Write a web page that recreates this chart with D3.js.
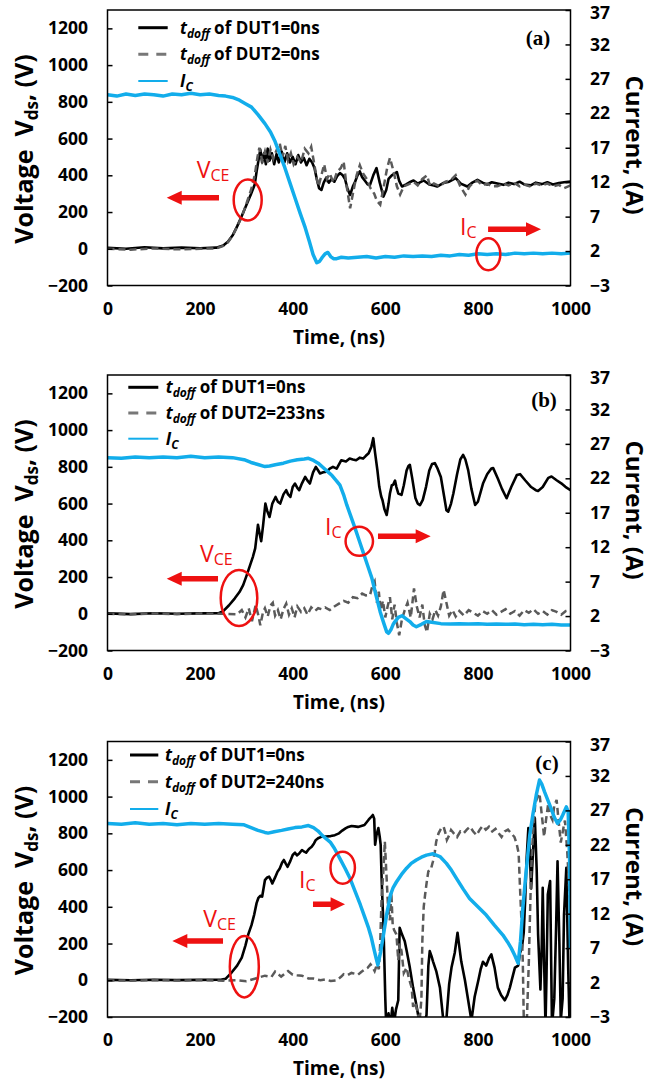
<!DOCTYPE html>
<html><head><meta charset="utf-8">
<script src="https://cdn.jsdelivr.net/npm/d3@7"></script>
<style>body{margin:0;background:#fff}svg{display:block}</style>
</head><body>
<svg id="c" width="663" height="1081" font-family="'Open Sans', Lato, sans-serif"></svg>
<script>
// ---------- data ----------
const timeTicks = [0,200,400,600,800,1000];
const voltTicks = [-200,0,200,400,600,800,1000,1200];
const currTicks = [-3,2,7,12,17,22,27,32,37];
const panelLabels = ["(a)","(b)","(c)"];
const dut1Delay = ["0ns","0ns","0ns"];
const dut2Delay = ["0ns","233ns","240ns"];

// Panel (a): [time ns, value]
const a_v1 = [[0,5],[40,0],[80,8],[120,2],[160,6],[200,3],[235,6],[250,18],[260,38],[270,72],[280,122],[290,178],[300,238],[310,298],[318,350],[322,420],[326,480],[330,540],[334,470],[338,520],[342,460],[346,545],[350,480],[355,520],[360,460],[365,515],[370,470],[376,530],[382,470],[388,520],[394,470],[400,500],[406,460],[412,510],[418,470],[424,495],[430,455],[436,490],[442,470],[447,440],[452,380],[457,330],[462,320],[467,360],[472,385],[478,360],[484,380],[490,365],[496,395],[502,412],[508,400],[513,380],[518,330],[524,293],[530,340],[535,366],[540,400],[545,421],[550,390],[556,370],[562,350],[567,348],[574,400],[581,439],[588,360],[596,284],[602,320],[607,380],[614,400],[620,410],[625,418],[630,370],[636,339],[645,350],[655,365],[661,372],[670,355],[683,372],[695,350],[705,345],[712,339],[725,358],[738,365],[752,385],[763,355],[777,339],[788,360],[799,375],[810,360],[820,350],[830,362],[842,355],[855,348],[866,360],[878,352],[890,365],[900,350],[914,345],[925,360],[938,352],[950,362],[962,350],[975,358],[986,362],[1000,366]];
const a_v2 = [[0,0],[50,-5],[100,2],[150,-3],[200,0],[235,2],[250,15],[260,35],[270,70],[280,120],[290,175],[300,245],[310,320],[318,400],[324,500],[328,550],[334,480],[340,530],[346,470],[352,540],[358,490],[364,530],[372,575],[378,500],[384,560],[390,480],[396,520],[402,460],[410,500],[418,470],[426,545],[434,520],[440,555],[446,470],[452,380],[456,340],[462,400],[468,460],[474,380],[480,410],[488,360],[496,420],[504,440],[510,475],[516,350],[524,220],[530,300],[538,400],[545,455],[552,410],[560,380],[568,330],[576,300],[582,260],[589,240],[596,330],[604,440],[610,495],[618,420],[625,340],[632,295],[640,340],[650,350],[661,365],[670,345],[680,380],[690,400],[697,340],[705,355],[718,340],[730,365],[742,375],[752,400],[762,340],[773,295],[782,340],[790,360],[799,370],[810,345],[820,355],[830,340],[842,340],[855,355],[866,345],[878,360],[890,340],[900,350],[914,338],[925,355],[938,345],[950,355],[962,340],[975,348],[986,330],[1000,345]];
const a_ic = [[0,24.7],[20,24.5],[40,24.8],[60,24.6],[80,24.8],[100,24.7],[120,24.5],[140,24.8],[160,24.7],[180,24.9],[200,24.7],[220,24.8],[240,24.6],[255,24.5],[270,24.3],[285,23.9],[298,23.4],[311,22.9],[325,21.8],[340,20.5],[352,19.3],[362,17.9],[372,16.1],[383,14.1],[394,11.9],[405,9.7],[416,7.5],[427,5.4],[436,3.4],[444,1.5],[452,0.3],[458,0.5],[464,1.1],[470,1.6],[476,1.8],[482,1.2],[488,0.9],[495,0.9],[505,1.1],[520,1.0],[540,1.1],[560,1.2],[580,1.0],[600,1.2],[620,1.1],[640,1.3],[660,1.2],[680,1.3],[700,1.2],[720,1.4],[740,1.3],[760,1.5],[780,1.4],[800,1.6],[820,1.5],[840,1.6],[860,1.5],[880,1.7],[900,1.6],[920,1.7],[940,1.6],[960,1.7],[980,1.6],[1000,1.7]];

// Panel (b)
const b_v1 = [[0,2],[50,-2],[100,3],[150,0],[200,2],[240,3],[250,14],[262,45],[275,84],[285,118],[293,156],[300,205],[308,265],[314,310],[319,356],[322,420],[325,485],[329,430],[332,395],[336,480],[341,600],[345,560],[350,527],[356,600],[363,636],[368,610],[373,600],[380,650],[386,673],[390,650],[395,636],[400,690],[405,709],[410,685],[414,673],[420,710],[427,745],[432,725],[437,709],[444,770],[450,800],[455,780],[459,764],[466,770],[473,773],[480,790],[487,800],[495,790],[505,836],[515,829],[523,845],[530,840],[537,836],[545,850],[552,845],[558,860],[564,874],[570,910],[574,956],[578,875],[583,780],[587,691],[591,640],[594,618],[598,570],[603,538],[607,600],[610,655],[614,700],[617,702],[621,725],[624,690],[628,655],[635,647],[640,700],[646,780],[650,805],[653,811],[658,740],[665,630],[670,600],[675,592],[681,620],[688,691],[695,780],[701,815],[707,820],[713,790],[720,745],[727,640],[732,564],[736,556],[742,600],[747,655],[755,760],[762,840],[768,865],[773,840],[779,782],[786,680],[794,592],[800,610],[811,709],[820,760],[829,791],[833,793],[843,736],[852,680],[862,629],[872,690],[884,755],[891,760],[902,727],[915,690],[925,673],[930,669],[940,690],[952,740],[959,747],[970,727],[980,710],[989,691],[1000,673]];
const b_v2 = [[0,0],[50,-3],[100,2],[150,-2],[200,1],[250,0],[280,-3],[290,20],[298,-20],[305,30],[312,-40],[320,47],[326,-10],[330,-62],[336,10],[340,30],[346,-15],[352,45],[357,60],[362,-10],[368,20],[374,-30],[380,25],[386,55],[392,-5],[398,30],[404,-20],[410,40],[418,10],[425,30],[432,-5],[440,35],[448,15],[455,30],[462,25],[470,35],[480,20],[490,40],[500,55],[510,70],[520,60],[530,90],[540,85],[550,110],[558,100],[567,102],[572,150],[577,175],[582,60],[586,120],[590,20],[595,70],[600,-20],[605,40],[610,90],[615,-30],[620,50],[625,-50],[630,-117],[636,-30],[642,20],[648,60],[655,-20],[662,138],[668,40],[674,-20],[680,50],[685,-60],[690,-100],[696,0],[702,-30],[708,20],[714,-10],[720,40],[726,130],[732,60],[738,-10],[745,20],[752,-15],[760,15],[770,-10],[780,20],[790,5],[800,-10],[810,15],[820,0],[830,20],[840,-5],[850,10],[860,25],[870,0],[880,15],[890,-10],[900,20],[910,5],[920,25],[930,0],[940,15],[950,-5],[960,20],[970,10],[980,-5],[990,15],[1000,20]];
const b_ic = [[0,25.0],[30,24.9],[60,25.1],[90,25.0],[120,25.1],[150,25.0],[180,25.2],[210,25.0],[240,25.1],[270,25.0],[295,24.7],[310,24.3],[325,24.0],[340,23.7],[350,23.8],[365,24.0],[380,24.2],[395,24.5],[410,24.7],[425,24.8],[434,24.9],[445,24.6],[455,24.2],[465,23.6],[475,23.0],[485,22.4],[495,21.6],[502,21.0],[510,19.6],[517,18.1],[526,16.4],[535,14.7],[544,12.9],[553,11.1],[562,9.3],[571,7.5],[580,5.0],[589,2.6],[597,0.9],[603,-0.3],[607,-0.5],[612,0.0],[617,0.8],[621,1.2],[628,1.8],[636,2.05],[645,1.6],[653,1.2],[660,0.7],[667,0.45],[678,0.8],[689,1.2],[700,1.1],[720,0.9],[740,0.85],[760,0.9],[780,0.85],[800,0.9],[820,0.8],[840,0.85],[860,0.8],[880,0.85],[900,0.75],[920,0.8],[940,0.75],[960,0.8],[980,0.7],[1000,0.7]];

// Panel (c)
const c_v1 = [[0,2],[50,0],[100,3],[150,1],[200,2],[245,3],[255,8],[268,42],[280,80],[290,123],[298,190],[304,250],[311,300],[317,359],[322,420],[326,449],[330,460],[334,455],[340,545],[345,560],[349,564],[353,545],[356,527],[362,560],[367,590],[372,609],[377,640],[381,655],[385,635],[389,618],[395,650],[400,682],[405,695],[409,680],[414,690],[420,709],[425,700],[429,695],[435,715],[441,727],[446,745],[450,764],[456,775],[463,782],[472,783],[482,785],[491,790],[500,800],[507,815],[514,827],[520,835],[527,840],[534,838],[541,835],[548,840],[555,845],[564,874],[568,885],[573,900],[576,880],[578,738],[581,790],[585,829],[588,780],[590,738],[592,560],[594,420],[596,300],[598,100],[600,-100],[602,-250],[607,-180],[611,-250],[615,-150],[619,-230],[623,-160],[628,-109],[631,286],[636,250],[642,213],[647,150],[653,69],[660,-40],[666,-120],[671,-190],[678,-260],[684,-230],[689,-190],[693,80],[696,159],[700,130],[703,103],[710,50],[718,-40],[725,-210],[732,-210],[738,-20],[743,69],[750,150],[756,259],[760,180],[764,103],[772,0],[779,-109],[786,-220],[793,-90],[801,0],[806,60],[811,101],[818,80],[824,120],[829,141],[836,69],[843,-40],[850,-80],[858,-109],[864,-80],[869,-40],[875,20],[880,69],[887,80],[891,150],[895,177],[899,260],[902,430],[905,650],[909,829],[912,700],[915,500],[919,700],[923,883],[927,600],[930,250],[935,-50],[938,200],[940,503],[943,100],[946,-250],[948,0],[951,467],[956,540],[960,-250],[965,-100],[969,300],[972,648],[976,200],[979,-220],[983,-100],[986,358],[991,612],[995,69],[998,-250],[1000,-250]];
const c_v2 = [[0,0],[50,-2],[100,1],[150,-1],[200,0],[250,-2],[280,0],[300,-5],[320,10],[340,25],[354,18],[362,47],[375,20],[390,50],[400,30],[409,27],[420,25],[434,10],[445,9],[460,0],[470,5],[482,-4],[495,0],[505,20],[510,33],[518,27],[527,40],[535,35],[541,30],[548,45],[555,58],[562,68],[568,87],[573,70],[577,50],[582,87],[586,60],[589,200],[592,450],[596,600],[599,756],[602,600],[606,395],[610,327],[613,480],[616,300],[619,273],[624,250],[628,109],[631,200],[635,159],[640,40],[646,69],[651,10],[657,-40],[660,-145],[664,-120],[669,-164],[674,-230],[678,-100],[680,213],[683,400],[686,467],[690,545],[693,593],[698,600],[703,648],[707,700],[710,756],[715,800],[721,829],[726,836],[730,800],[733,764],[738,790],[742,818],[748,800],[755,780],[762,810],[769,800],[776,820],[783,836],[790,810],[797,790],[804,820],[810,840],[817,820],[824,836],[831,810],[838,825],[845,800],[851,780],[858,810],[865,820],[872,800],[879,780],[884,740],[888,691],[891,500],[894,327],[897,100],[899,-200],[903,-250],[906,-200],[910,100],[915,600],[919,800],[924,964],[929,1000],[933,1018],[938,900],[943,782],[947,870],[952,964],[956,900],[961,873],[965,950],[970,982],[975,850],[979,750],[984,820],[988,870],[993,700],[997,500],[1000,400]];
const c_ic = [[0,25.1],[30,25.0],[60,25.2],[90,25.0],[120,25.1],[150,24.9],[180,25.1],[210,25.0],[240,25.1],[270,25.0],[295,24.9],[310,24.5],[325,24.1],[340,23.8],[347,23.7],[360,23.9],[376,24.1],[390,24.3],[405,24.5],[420,24.6],[434,24.8],[445,24.5],[455,24.0],[463,23.4],[472,22.9],[481,22.4],[490,21.5],[502,20.0],[513,18.6],[524,17.1],[535,15.2],[546,13.3],[555,11.6],[564,9.9],[570,8.5],[575,7.0],[580,5.6],[584,4.55],[590,6.5],[596,8.9],[603,11.9],[611,14.7],[617,15.8],[624,16.6],[635,17.7],[646,18.6],[656,19.3],[667,19.8],[678,20.2],[689,20.5],[703,20.7],[718,20.3],[732,19.3],[743,18.3],[754,17.1],[768,15.6],[782,14.2],[800,13.0],[818,11.8],[836,10.3],[854,8.9],[864,7.9],[872,7.0],[880,5.9],[887,4.8],[892,8.0],[897,12.8],[904,18.0],[912,23.4],[919,26.5],[926,29.2],[933,31.4],[938,30.8],[944,29.7],[951,28.5],[958,27.3],[965,26.0],[972,25.1],[978,25.6],[983,26.3],[991,27.5],[995,26.8],[998,20],[1000,7]];

// Annotations in data units: [time, voltage]
const a_vceText = [192.7,383.7], a_vceArrow = [240.8,127.9,278], a_vceEll = [302.8,265.5];
const a_icText = [761.3,75],    a_icArrow = [822,936.3,106],    a_icEll = [822.5,-30];
const b_vceText = [199.8,280],  b_vceArrow = [238.7,127.9,191], b_vceEll = [284,86];
const b_icText = [469.8,430.7], b_icArrow = [584.2,698,422],    b_icEll = [543.8,394.7];
const c_vceText = [206.9,291.8],c_vceArrow = [249.5,140,214],   c_vceEll = [295.5,74];
const c_icText = [413.6,504],   c_icArrow = [443.8,513,413.8],  c_icEll = [508,613];

// ---------- layout ----------
const X0 = 107.5, X1 = 570.5, H = 275.5;
const BLUE = "#12ADEB", GRAY = "#5a5a5a", RED = "#ee1111";
const FONT = "'Open Sans', Lato, sans-serif";
const panels = [
  {top:10, v1:a_v1, v2:a_v2, ic:a_ic, leg:{x0:138.3,x1:167.7,tx:180,rows:[17.7,44.3,71]}, lab:{x:538,y:28},
   vT:a_vceText, vA:a_vceArrow, vE:a_vceEll, vR:[14,20.5], iT:a_icText, iA:a_icArrow, iE:a_icEll, iR:[12,16]},
  {top:375, v1:b_v1, v2:b_v2, ic:b_ic, leg:{x0:128.3,x1:158.3,tx:165.7,rows:[12.3,38,63.7]}, lab:{x:544,y:25.7},
   vT:b_vceText, vA:b_vceArrow, vE:b_vceEll, vR:[18.3,28], iT:b_icText, iA:b_icArrow, iE:b_icEll, iR:[13.7,14.5]},
  {top:741.5, v1:c_v1, v2:c_v2, ic:c_ic, leg:{x0:130,x1:158.3,tx:165,rows:[13.5,40.2,67.5]}, lab:{x:547,y:21.5},
   vT:c_vceText, vA:c_vceArrow, vE:c_vceEll, vR:[14.5,30.7], iT:c_icText, iA:c_icArrow, iE:c_icEll, iR:[12.2,16]}
];

const svg = d3.select("#c");
const defs = svg.append("defs");

function arrow(g, x1, x2, y){
  const dir = x2 > x1 ? 1 : -1;
  const hl = Math.min(15, Math.abs(x2-x1)*0.45);
  const xh = x2 - dir*hl;
  const p = `M${x1},${y-2.8}L${xh},${y-2.8}L${xh},${y-7}L${x2},${y}L${xh},${y+7}L${xh},${y+2.8}L${x1},${y+2.8}Z`;
  g.append("path").attr("d",p).attr("fill",RED);
}

panels.forEach((p,i)=>{
  const bottom = p.top + H;
  const x = d3.scaleLinear().domain([0,1000]).range([X0,X1]);
  const yV = d3.scaleLinear().domain([-200,1300]).range([bottom,p.top]);
  const yI = d3.scaleLinear().domain([-3,37]).range([bottom,p.top]);
  const g = svg.append("g");

  defs.append("clipPath").attr("id","clip"+i).append("rect")
    .attr("x",X0).attr("y",p.top).attr("width",X1-X0).attr("height",H);
  const plot = g.append("g").attr("clip-path",`url(#clip${i})`);
  const lineV = d3.line().x(d=>x(d[0])).y(d=>yV(d[1]));
  const lineI = d3.line().x(d=>x(d[0])).y(d=>yI(d[1]));
  plot.append("path").datum(p.v1).attr("d",lineV).attr("fill","none").attr("stroke","#000").attr("stroke-width",2.6).attr("stroke-linejoin","round");
  plot.append("path").datum(p.v2).attr("d",lineV).attr("fill","none").attr("stroke",GRAY).attr("stroke-width",2.5).attr("stroke-dasharray","7,4");
  plot.append("path").datum(p.ic).attr("d",lineI).attr("fill","none").attr("stroke",BLUE).attr("stroke-width",3.5).attr("stroke-linejoin","round");

  // frame
  g.append("rect").attr("x",X0).attr("y",p.top).attr("width",X1-X0).attr("height",H)
    .attr("fill","none").attr("stroke","#000").attr("stroke-width",1.5);

  // axes
  const fmt = d3.format("d");
  const axL = g.append("g").attr("transform",`translate(${X0},0)`)
    .call(d3.axisLeft(yV).tickValues(voltTicks).tickFormat(fmt).tickSize(-5).tickPadding(19.5));
  const axR = g.append("g").attr("transform",`translate(${X1},0)`)
    .call(d3.axisRight(yI).tickValues(currTicks).tickFormat(fmt).tickSize(-5).tickPadding(19.5));
  const axB = g.append("g").attr("transform",`translate(0,${bottom})`)
    .call(d3.axisBottom(x).tickValues(timeTicks).tickFormat(fmt).tickSize(0).tickPadding(17));
  [axL,axR,axB].forEach(a=>{
    a.select(".domain").remove();
    a.selectAll("line").attr("stroke","#000").attr("stroke-width",1.5);
    a.selectAll("text").attr("font-family",FONT).attr("font-weight","bold").attr("font-size","17.5px").attr("fill","#000");
  });
  // keep the top right-axis label inside the page
  axR.selectAll(".tick").filter(d=>d===37).select("text").attr("dy","0.5em");

  // axis titles
  const tl = g.append("text").attr("transform",`translate(33,${p.top+139}) rotate(-90)`)
    .attr("text-anchor","middle").attr("font-weight","bold").attr("font-size","25px").style("white-space","pre");
  tl.append("tspan").text("Voltage  V");
  tl.append("tspan").attr("font-size","17px").attr("dy",5).text("ds");
  tl.append("tspan").attr("dy",-5).text(", (V)");
  g.append("text").attr("transform",`translate(626,${p.top+135}) rotate(90)`)
    .attr("text-anchor","middle").attr("font-weight","bold").attr("font-size","24px").text("Current, (A)");
  g.append("text").attr("x",(X0+X1)/2).attr("y",bottom+58).attr("text-anchor","middle")
    .attr("font-weight","bold").attr("font-size","19px").text("Time, (ns)");

  // panel label
  g.append("text").attr("x",p.lab.x).attr("y",p.lab.y+p.top+6.5).attr("text-anchor","middle")
    .attr("font-family","'Liberation Serif', serif").attr("font-weight","bold").attr("font-size","21px").text(panelLabels[i]);

  // legend
  const L = p.leg;
  const rows = L.rows.map(r=>r+p.top);
  g.append("line").attr("x1",L.x0).attr("x2",L.x1).attr("y1",rows[0]).attr("y2",rows[0]).attr("stroke","#000").attr("stroke-width",3);
  g.append("line").attr("x1",L.x0).attr("x2",L.x1).attr("y1",rows[1]).attr("y2",rows[1]).attr("stroke","#777").attr("stroke-width",3).attr("stroke-dasharray","10,8");
  g.append("line").attr("x1",L.x0).attr("x2",L.x1).attr("y1",rows[2]).attr("y2",rows[2]).attr("stroke",BLUE).attr("stroke-width",2);
  [dut1Delay[i], dut2Delay[i]].forEach((dl,k)=>{
    const t = g.append("text").attr("x",L.tx).attr("y",rows[k]+6).attr("font-weight","bold").attr("font-size","17px").style("white-space","pre");
    t.append("tspan").attr("font-style","italic").text("t");
    t.append("tspan").attr("font-style","italic").attr("font-size","12px").attr("dy",4).text("doff");
    t.append("tspan").attr("dy",-4).text(` of DUT${k+1}=${dl}`);
  });
  const ti = g.append("text").attr("x",L.tx).attr("y",rows[2]+6).attr("font-weight","bold").attr("font-size","17px").attr("font-style","italic");
  ti.append("tspan").text("I");
  ti.append("tspan").attr("font-size","12px").attr("dy",4).text("C");

  // red annotations
  const ann = g.append("g");
  const vt = ann.append("text").attr("x",x(p.vT[0])).attr("y",yV(p.vT[1])).attr("fill",RED).attr("font-size","23px");
  vt.append("tspan").text("V");
  vt.append("tspan").attr("font-size","16px").attr("dy",3).text("CE");
  arrow(ann, x(p.vA[0]), x(p.vA[1]), yV(p.vA[2]));
  ann.append("ellipse").attr("cx",x(p.vE[0])).attr("cy",yV(p.vE[1])).attr("rx",p.vR[0]).attr("ry",p.vR[1])
    .attr("fill","none").attr("stroke",RED).attr("stroke-width",2.5);
  const it = ann.append("text").attr("x",x(p.iT[0])).attr("y",yV(p.iT[1])).attr("fill",RED).attr("font-size","23px");
  it.append("tspan").text("I");
  it.append("tspan").attr("font-size","16px").attr("dy",3).text("C");
  arrow(ann, x(p.iA[0]), x(p.iA[1]), yV(p.iA[2]));
  ann.append("ellipse").attr("cx",x(p.iE[0])).attr("cy",yV(p.iE[1])).attr("rx",p.iR[0]).attr("ry",p.iR[1])
    .attr("fill","none").attr("stroke",RED).attr("stroke-width",2.5);
});
</script>
</body></html>
